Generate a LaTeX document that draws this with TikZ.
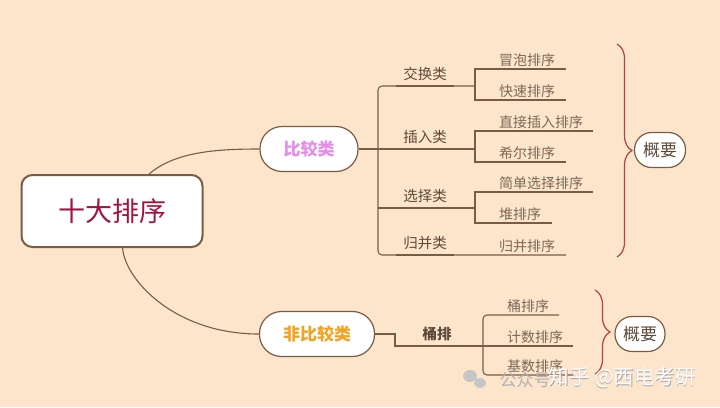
\documentclass[tikz,border=0pt]{standalone}
\usepackage{fontspec}
\setmainfont{Noto Sans CJK SC}
\usetikzlibrary{decorations.pathreplacing,calc}
\definecolor{bg}{HTML}{FDE5CB}
\definecolor{ln}{HTML}{7A5C44}
\definecolor{rootred}{HTML}{A3143C}
\definecolor{pinkt}{HTML}{E68CE8}
\definecolor{oranget}{HTML}{F2A324}
\definecolor{cattext}{HTML}{5E4A3A}
\definecolor{leaftext}{HTML}{7A6858}
\definecolor{bracered}{HTML}{B0453F}
\begin{document}
\begin{tikzpicture}[x=1pt,y=-1pt,
  conn/.style={draw=ln, line width=1.1pt},
  under/.style={draw=ln, line width=2pt},
  rootbox/.style={draw=ln, line width=2pt, fill=white, rounded corners=11pt,
    minimum width=181pt, minimum height=72pt, text=rootred,
    font=\fontsize{27}{30}\selectfont},
  catbox/.style={draw=ln, line width=1.2pt, fill=white, rounded corners=22pt,
    minimum height=45pt, font=\fontsize{17}{19}\selectfont\bfseries},
  catlabel/.style={anchor=south, inner sep=2pt, yshift=3pt, minimum width=58pt, text=cattext,
    font=\fontsize{14.5}{16}\selectfont},
  leaf/.style={anchor=south west, inner sep=2pt, text=leaftext,
    font=\fontsize{14}{16}\selectfont},
  summary/.style={draw=ln, line width=1.2pt, fill=white, rounded corners=17pt,
    minimum width=51pt, minimum height=35pt, text=cattext, inner sep=1pt,
    font=\fontsize{17}{19}\selectfont},
  bracestyle/.style={draw=bracered, line width=1.2pt,
    decorate, decoration={brace, amplitude=15pt}}
]
\fill[bg] (0,0) rectangle (720,407);
\useasboundingbox (0,0) rectangle (720,407);

% root and main categories
\node[rootbox] (root) at (112,211) {十大排序};
\node[catbox, minimum width=98pt, text=pinkt] (cmp) at (309,149) {比较类};
\node[catbox, minimum width=115pt, text=oranget] (ncmp) at (317,334) {非比较类};

\draw[conn] (root.45) .. controls (175,152) and (215,149) .. (cmp.west);
\draw[conn] (root.-74) .. controls (125,280) and (175,334) .. (ncmp.west);

% comparison branch
\coordinate (cj) at (378,149);
\draw[conn] (cmp.east) -- (cj);
\draw[conn, rounded corners=4pt] (475,86) -- (378,86) -- (378,255) -- (566,255);
\draw[conn] (cj) -- (475,149);
\draw[conn] (378,208) -- (475,208);

\node[catlabel] (c1) at (425,86) {交换类};
\node[catlabel] (c2) at (425,149) {插入类};
\node[catlabel] (c3) at (425,208) {选择类};
\node[catlabel] (c4) at (425,255) {归并类};
\foreach \c in {c1,c2,c3,c4}
  \draw[under] ($(\c.south west)+(0,3)$) -- ($(\c.south east)+(0,3)$);

% sub items
\draw[conn] (566,69) -- (475,69) -- (475,100) -- (566,100);
\draw[conn] (593,131) -- (475,131) -- (475,162) -- (566,162);
\draw[conn] (593,192) -- (475,192) -- (475,223) -- (552,223);

\node[leaf] (l1) at (497,69) {冒泡排序};
\node[leaf] (l2) at (497,100) {快速排序};
\node[leaf] (l3) at (497,131) {直接插入排序};
\node[leaf] (l4) at (497,162) {希尔排序};
\node[leaf] (l5) at (497,192) {简单选择排序};
\node[leaf] (l6) at (497,223) {堆排序};
\node[leaf] (l7) at (497,255) {归并排序};

\draw[bracestyle] (617,44) -- (617,257);
\node[summary] (s1) at (660,150) {概要};

% non-comparison branch
\draw[conn] (ncmp.east) -- (395,334) -- (395,346) -- (483,346);
\node[catlabel, minimum width=50pt, font=\fontsize{14.5}{16}\selectfont\bfseries] (c5) at (437,346) {桶排};
\draw[under] ($(c5.south west)+(0,3)$) -- ($(c5.south east)+(0,3)$);
\draw[conn, rounded corners=4pt] (559,315) -- (483,315) -- (483,375) -- (573,375);
\draw[conn] (483,346) -- (573,346);
\node[leaf] (m1) at (505,315) {桶排序};
\node[leaf] (m2) at (505,346) {计数排序};
\node[leaf] (m3) at (505,375) {基数排序};

\draw[bracestyle] (595,290) -- (595,374);
\node[summary, minimum width=50pt] (s2) at (640,334) {概要};

% watermark
\fill[gray!45] (470,376) ellipse (7pt and 6pt);
\fill[gray!45] (480,383) ellipse (6pt and 5pt);
\node[text=gray!60, font=\fontsize{17}{19}\selectfont, anchor=west] (w1) at (496,380) {公众号};
\node[text=gray!70, font=\fontsize{20.5}{22}\selectfont, anchor=west] (w2) at (545.8,378.8) {知乎 @西电考研};
\node[text=white, font=\fontsize{20.5}{22}\selectfont, anchor=west] (w3) at (545,378) {知乎 @西电考研};
\end{tikzpicture}
\end{document}
